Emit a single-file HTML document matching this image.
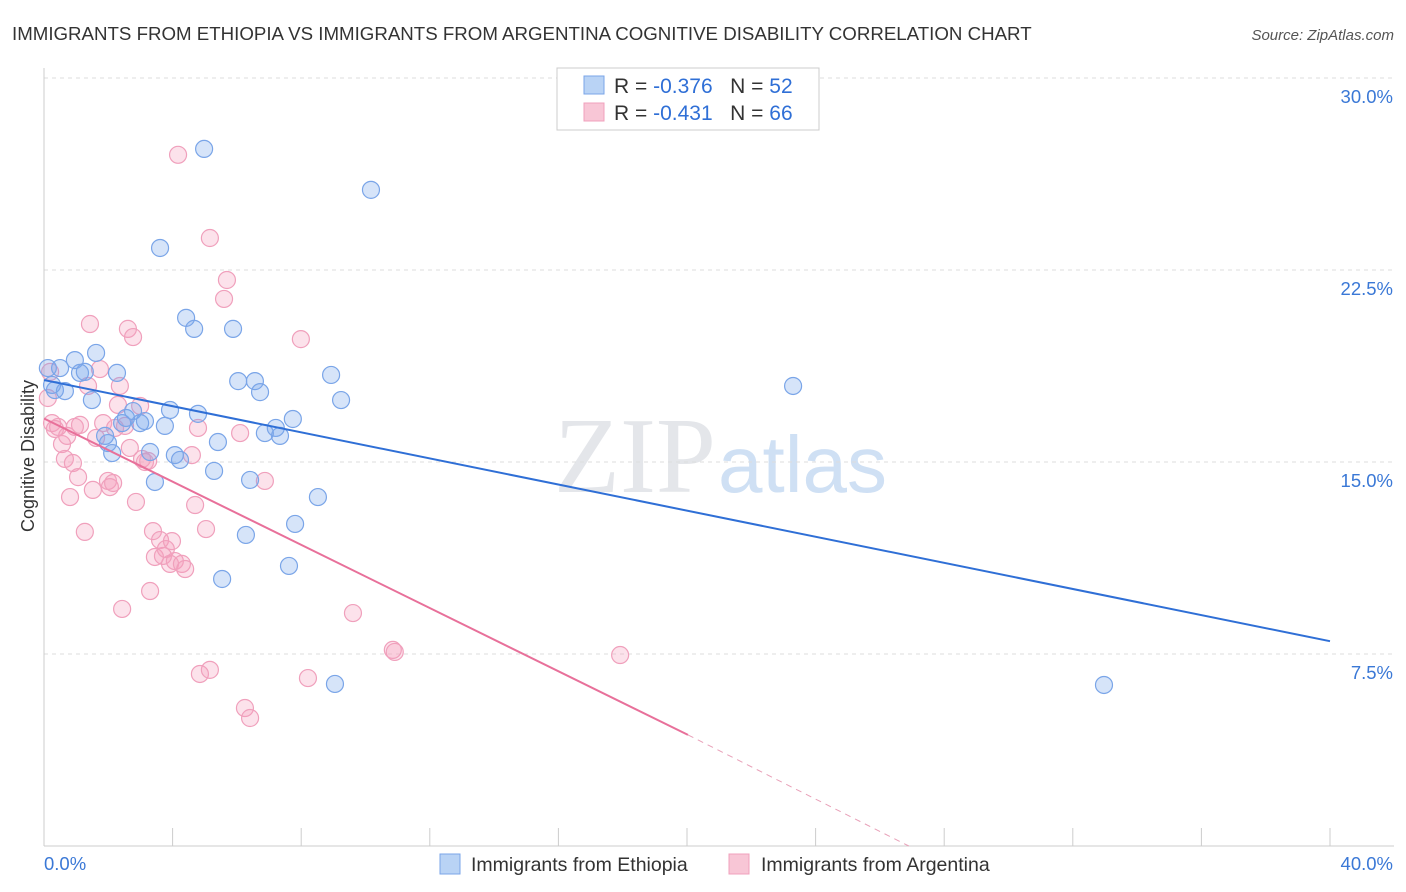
<!DOCTYPE html>
<html><head><meta charset="utf-8"><style>
body{margin:0;background:#fff;font-family:"Liberation Sans",sans-serif;}
#wrap{position:relative;width:1406px;height:892px;overflow:hidden}
</style></head><body>
<div id="wrap">
<svg id="svg" width="1406" height="892" xmlns="http://www.w3.org/2000/svg">
<text x="12" y="40" font-size="18.7" fill="#333">IMMIGRANTS FROM ETHIOPIA VS IMMIGRANTS FROM ARGENTINA COGNITIVE DISABILITY CORRELATION CHART</text>
<text x="1394" y="40" font-size="15" fill="#555" font-style="italic" text-anchor="end">Source: ZipAtlas.com</text>
<text x="716" y="492" font-size="108" fill="#e4e6ea" text-anchor="end" font-family="Liberation Serif,serif">ZIP</text>
<text x="718" y="492" font-size="80" fill="#cfe0f4">atlas</text>
<text transform="translate(34,456) rotate(-90)" font-size="18" fill="#333" text-anchor="middle">Cognitive Disability</text>
<g id="grid"></g><g id="pts"></g><g id="trend"></g>
<g>
<rect x="557" y="68" width="262" height="62" fill="#fff" stroke="#ccc"/>
<rect x="584" y="76" width="20" height="18" fill="#b9d3f5" stroke="#7aa5e8"/>
<text x="614" y="93" font-size="21" fill="#333">R = <tspan fill="#2f6fd6">-0.376</tspan>&#160;&#160;&#160;N = <tspan fill="#2f6fd6">52</tspan></text>
<rect x="584" y="103" width="20" height="18" fill="#f8c6d6" stroke="#f0a0bc"/>
<text x="614" y="120" font-size="21" fill="#333">R = <tspan fill="#2f6fd6">-0.431</tspan>&#160;&#160;&#160;N = <tspan fill="#2f6fd6">66</tspan></text>
</g>
<g>
<rect x="440" y="854" width="20" height="20" fill="#b9d3f5" stroke="#7aa5e8"/>
<text x="471" y="871" font-size="19.5" fill="#333">Immigrants from Ethiopia</text>
<rect x="729" y="854" width="20" height="20" fill="#f8c6d6" stroke="#f0a0bc"/>
<text x="761" y="871" font-size="19.5" fill="#333">Immigrants from Argentina</text>
</g>
</svg></div>
<script>
const yTicks=[7.5,15,22.5,30];
const yTickLabels=["7.5%","15.0%","22.5%","30.0%"];
const xTickLabels=["0.0%","40.0%"];
const blueX=[0.12,0.25,0.34,0.5,0.65,0.96,1.12,1.27,1.49,1.62,1.9,1.99,2.12,2.27,2.43,2.55,2.77,2.99,3.14,3.3,3.45,3.61,3.76,3.92,4.07,4.23,4.42,4.67,4.79,4.98,5.29,5.41,5.54,5.88,6.04,6.28,6.41,6.56,6.72,6.87,7.21,7.34,7.62,7.74,7.81,8.52,8.93,9.05,9.24,10.17,23.3,32.97];
const blueY=[18.67,18.01,17.81,18.67,17.77,18.98,18.48,18.52,17.42,19.26,16.02,15.74,15.35,18.48,16.52,16.72,16.99,16.52,16.6,15.39,14.22,23.36,16.41,17.03,15.27,15.08,20.63,20.2,16.88,27.23,14.65,15.78,10.43,20.2,18.16,12.15,14.3,18.16,17.73,16.13,16.33,16.02,10.94,16.68,12.58,13.63,18.4,6.33,17.42,25.63,17.97,6.29];
const pinkX=[0.12,0.19,0.25,0.34,0.44,0.56,0.65,0.72,0.81,0.9,0.96,1.06,1.12,1.27,1.37,1.43,1.52,1.62,1.74,1.84,1.99,2.05,2.15,2.21,2.3,2.36,2.43,2.52,2.61,2.67,2.77,2.86,2.99,3.05,3.14,3.24,3.3,3.39,3.45,3.61,3.7,3.79,3.92,3.98,4.07,4.17,4.29,4.39,4.6,4.7,4.79,4.85,5.04,5.16,5.16,5.6,5.69,6.1,6.25,6.41,6.87,7.99,8.21,9.61,10.85,10.91,17.92];
const pinkY=[17.5,18.52,16.52,16.29,16.37,15.7,15.12,16.02,13.63,14.96,16.37,14.41,16.45,12.27,17.97,20.39,13.91,15.94,18.63,16.52,14.26,14.02,14.18,16.33,17.23,17.97,9.26,16.41,20.2,15.55,19.88,13.44,17.19,15.12,15.0,15.04,9.96,12.3,11.29,11.95,11.33,11.6,11.02,11.91,11.13,27.0,11.02,10.82,15.27,13.32,16.33,6.72,12.38,6.88,23.75,21.37,22.11,16.13,5.39,5.0,14.26,19.8,6.56,9.1,7.66,7.58,7.46];
const blueTrend=[[0,18.2],[40,8.0]];
const pinkTrend=[[0,16.7],[20.03,4.34],[26.9,0]];
const X=v=>44+v*32.15, Y=v=>846-v*25.6;
const NS="http://www.w3.org/2000/svg";
function mk(tag,attrs,parent){const e=document.createElementNS(NS,tag);for(const k in attrs)e.setAttribute(k,attrs[k]);parent.appendChild(e);return e;}
const grid=document.getElementById('grid');
yTicks.forEach((t,i)=>{
  const l=mk('line',{x1:44,x2:1394,y1:Y(t),y2:Y(t),stroke:'#ddd','stroke-dasharray':'4,4'},grid);
  
  
  const tx=mk('text',{x:1393,y:Y(t)+25,'font-size':18.5,fill:'#3a78d6','text-anchor':'end'},grid);
  tx.textContent=yTickLabels[i];
  
  
});
const ax=mk('line',{x1:44,x2:44,y1:68,y2:846,stroke:'#ccc'},grid);


const bx=mk('line',{x1:44,x2:1394,y1:846,y2:846,stroke:'#ccc'},grid);


for(let i=1;i<=10;i++){const t=mk('line',{x1:X(i*4),x2:X(i*4),y1:828,y2:846,stroke:'#ccc'},grid);

}
const xl0=mk('text',{x:44,y:870,'font-size':18.5,fill:'#3a78d6'},grid);xl0.textContent=xTickLabels[0];


const xl1=mk('text',{x:1393,y:870,'font-size':18.5,fill:'#3a78d6','text-anchor':'end'},grid);xl1.textContent=xTickLabels[1];


const pts=document.getElementById('pts');
pinkX.forEach((x,i)=>{const c=mk('circle',{cx:X(x),cy:Y(pinkY[i]),r:8.5,fill:'rgba(244,160,190,0.3)',stroke:'#f0a0bc','stroke-width':1.2},pts);

});
blueX.forEach((x,i)=>{const c=mk('circle',{cx:X(x),cy:Y(blueY[i]),r:8.5,fill:'rgba(120,165,235,0.3)',stroke:'#7aa5e8','stroke-width':1.2},pts);

});
const tr=document.getElementById('trend');
const bl=mk('line',{x1:X(blueTrend[0][0]),y1:Y(blueTrend[0][1]),x2:X(blueTrend[1][0]),y2:Y(blueTrend[1][1]),stroke:'#2f6fd6','stroke-width':2},tr);


const pl=mk('line',{x1:X(pinkTrend[0][0]),y1:Y(pinkTrend[0][1]),x2:X(pinkTrend[1][0]),y2:Y(pinkTrend[1][1]),stroke:'#e8709a','stroke-width':2},tr);


const pd=mk('line',{x1:X(pinkTrend[1][0]),y1:Y(pinkTrend[1][1]),x2:X(pinkTrend[2][0]),y2:Y(pinkTrend[2][1]),stroke:'#e8a0b8','stroke-width':1,'stroke-dasharray':'6,5'},tr);


</script>
</body></html>
